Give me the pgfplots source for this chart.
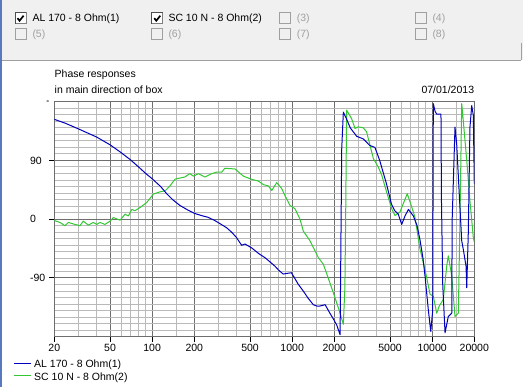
\documentclass[border=0pt]{standalone}
\usepackage{fontspec}
\setmainfont{Liberation Sans}
\usepackage{pgfplots}
\pgfplotsset{compat=1.18}
\definecolor{bluec}{RGB}{0,0,190}
\definecolor{greenc}{RGB}{50,200,50}
\definecolor{panel}{RGB}{240,240,240}
\definecolor{majgrid}{RGB}{110,110,110}
\definecolor{mingrid}{RGB}{185,185,185}
\definecolor{disab}{RGB}{160,160,160}
\definecolor{framec}{RGB}{90,120,190}
\newcommand\cbon[2]{%
  \fill[white] (#1,#2) rectangle +(11,11);
  \draw[gray, line width=1pt] (#1,#2) rectangle +(11,11);
  \draw[black!70, line width=1pt] (#1,#2+11) -- (#1,#2) -- (#1+11,#2);
  \draw[black, line width=1.7pt, line join=miter] (#1+2.5,#2+5.5) -- (#1+4.6,#2+8) -- (#1+8.6,#2+3);}
\newcommand\cboff[2]{%
  \fill[panel] (#1,#2) rectangle +(11,11);
  \draw[disab, line width=1pt] (#1,#2) rectangle +(11,11);}
\begin{document}
\fontsize{10.5}{12}\selectfont
\begin{tikzpicture}[font=\fontsize{10.5}{12}\selectfont]
\begin{scope}[x=1pt,y=-1pt]
\useasboundingbox (0,0) rectangle (523,387);
\fill[white] (0,0) rectangle (523,387);
\fill[panel] (0,0) rectangle (523,60.5);
\draw[disab, line width=1pt] (2,60.5) -- (521,60.5);
\draw[disab, line width=1pt] (521,43) -- (521,60.5);
\fill[framec] (0,0) rectangle (2,387);
\cbon{15}{12.7}
\cbon{151.7}{12.7}
\cboff{279}{12.7}
\cboff{415}{12.7}
\cboff{15}{28.3}
\cboff{151.7}{28.3}
\cboff{279}{28.3}
\cboff{415}{28.3}
\node[anchor=base west, inner sep=0pt] at (32.3,21.7) {AL 170 - 8 Ohm(1)};
\node[anchor=base west, inner sep=0pt] at (168.3,21.7) {SC 10 N - 8 Ohm(2)};
\node[anchor=base west, inner sep=0pt, text=disab] at (296.7,21.7) {(3)};
\node[anchor=base west, inner sep=0pt, text=disab] at (432.3,21.7) {(4)};
\node[anchor=base west, inner sep=0pt, text=disab] at (32.3,37.3) {(5)};
\node[anchor=base west, inner sep=0pt, text=disab] at (168.3,37.3) {(6)};
\node[anchor=base west, inner sep=0pt, text=disab] at (296.7,37.3) {(7)};
\node[anchor=base west, inner sep=0pt, text=disab] at (432.3,37.3) {(8)};
\node[anchor=base west, inner sep=0pt] at (54.5,77.5) {Phase responses};
\node[anchor=base west, inner sep=0pt] at (54.5,94) {in main direction of box};
\node[anchor=base east, inner sep=0pt] at (474.3,94) {07/01/2013};
\node[inner sep=0pt, font=\fontsize{7}{7}\selectfont] at (47.7,103) {°};
\draw[bluec, line width=1pt] (14,363.3) -- (30.5,363.3);
\draw[greenc, line width=1pt] (14,375.7) -- (30.5,375.7);
\node[anchor=base west, inner sep=0pt] at (34,367.3) {AL 170 - 8 Ohm(1)};
\node[anchor=base west, inner sep=0pt] at (34,380.7) {SC 10 N - 8 Ohm(2)};
\end{scope}
\begin{axis}[
  at={(54.3pt,-336.7pt)}, anchor=south west,
  scale only axis, width=420pt, height=235pt,
  xmode=log, log basis x=10,
  xmin=20, xmax=20000, ymin=-180, ymax=180,
  xtick={20,50,100,200,500,1000,2000,5000,10000,20000},
  xticklabels={20,50,100,200,500,1000,2000,5000,10000,20000},
  minor xtick={30,40,60,70,80,90,150,300,400,600,700,800,900,1500,3000,4000,6000,7000,8000,9000,15000},
  ytick={-90,0,90}, yticklabels={-90,0,90},
  minor ytick={-170,-160,...,170},
  grid=both,
  major grid style={majgrid, line width=1pt},
  minor grid style={mingrid, line width=1pt},
  axis line style={majgrid, line width=1pt},
  tick style={black, line width=1pt},
  tick align=outside, major tick length=5pt, minor tick length=0pt,
  tick pos=left,
  xticklabel style={font=\fontsize{10.5}{12}\selectfont, anchor=base, inner sep=0pt, yshift=-9.5pt},
  yticklabel style={font=\fontsize{10.5}{12}\selectfont, anchor=west, inner sep=0pt, xshift=-19.5pt},
  every axis plot/.append style={line width=1pt, line join=round},
]
\addplot[greenc] coordinates {
(20,-2) (22,-5) (23.8,-10) (25.2,-5) (28.1,-8) (30.5,-10) (32.2,-3) (35,-9) (38,-5) (40.2,-8) (42.4,-5) (46,-8) (50,-3) (52.8,2.5) (59,-1.5) (64,7.7) (67.6,5) (71.5,15) (75.4,13) (82,18) (91.4,25.5) (102,38.5) (114,42) (124,43.5) (134,51) (146,61.5) (171,64.6) (186,69.7) (197,66) (214,69.7) (238,64.6) (266,69.7) (288,72) (314,72) (330,78) (390,77) (448,66) (514,61) (573,58.5) (622,53) (676,51) (715,44) (776,56) (842,47) (889,36) (966,21) (1048,16) (1138,0) (1200,-18) (1340,-33) (1540,-59) (1670,-69) (1810,-90) (1970,-113) (2140,-136) (2320,-161) (2380,-105) (2410,0) (2450,167) (2660,154) (2810,139) (2970,141.5) (3220,140) (3400,134) (3600,113) (3800,93) (4120,80) (4370,67) (4730,41.5) (5140,16) (5430,5.5) (5890,11) (6640,39) (7150,18.5) (7540,3) (8190,-46) (8890,-77) (9660,-115) (10190,-118) (10780,-144) (11240,-133) (12010,-123) (12700,-72) (13040,-56) (13800,-87) (14560,-149) (15380,-144) (15800,0) (16260,177) (16680,151) (17660,90) (18620,28) (19680,-28) (20000,-35)
};
\addplot[bluec] coordinates {
(20,153) (24,147) (30,138) (40,126) (50,114) (60,102) (70,91) (80,80) (90,70) (100,62) (115,50) (127,39) (140,30) (158,21) (180,14) (200,9) (230,5) (250,3) (280,-2) (306,-7) (340,-13) (370,-20) (400,-28) (436,-40) (460,-38) (514,-44) (580,-53) (640,-59) (700,-66) (754,-72) (800,-78) (862,-84) (920,-83) (987,-82) (1040,-90) (1100,-99) (1200,-110) (1300,-121) (1416,-131) (1500,-133) (1580,-133) (1720,-131) (1860,-144) (1960,-152) (2080,-162) (2200,-177) (2260,108) (2320,164) (2440,154) (2600,140) (2890,127) (3220,123) (3580,113) (3900,110) (4220,90) (4720,54) (5120,23) (5400,13) (5720,8) (6060,-8) (6400,5) (6770,15) (7340,5) (7800,-10) (8190,-32) (8600,-60) (8890,-87) (9380,-138) (9770,-172) (10090,-140) (10190,177) (10500,165) (10780,161) (11560,161) (11650,30) (11900,-100) (12360,-174) (13040,-149) (13800,-144) (13900,0) (14560,141) (14970,115) (15620,38) (16260,-33) (16680,-46) (17460,-72) (17660,-105) (18120,-20) (18620,141) (19170,174) (19680,159) (20000,54)
};
\end{axis}
\end{tikzpicture}
\end{document}
